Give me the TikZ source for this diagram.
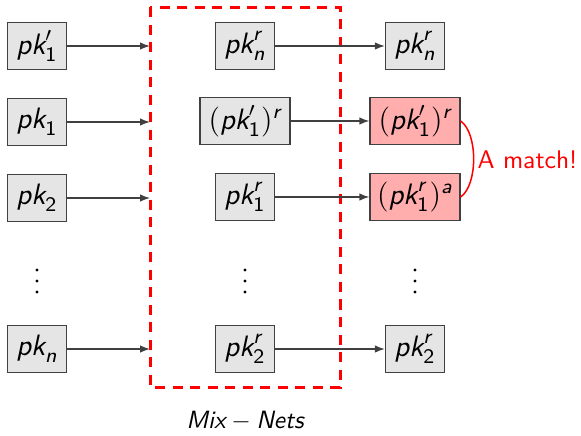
\documentclass[tikz,border=0pt]{standalone}
\usepackage{amsmath}
\usetikzlibrary{arrows.meta}
\newcommand\sv[1]{\textsf{\itshape #1}}
\newcommand\su[1]{\textsf{\upshape #1}}
\newcommand\pk{\sv{pk}}
\begin{document}
\begin{tikzpicture}[x=0.4pt,y=-0.4pt,
  key/.style={draw=black!75, fill=black!10, line width=0.5pt, minimum width=23.6pt, minimum height=19pt, inner sep=1pt, font=\fontsize{11.8}{13}\selectfont},
  widekey/.style={key, minimum width=36pt},
  hit/.style={widekey, fill=red!32},
  conn/.style={draw=black!75, line width=0.5pt, -{Latex[length=4pt,width=3pt]}},
  dot/.style={circle, fill=black, inner sep=0pt, minimum size=1.3pt},
  mixbox/.style={draw=red, dashed, dash pattern=on 4pt off 3pt, line width=1.2pt}]
\useasboundingbox (0,0) rectangle (581,435);
% left column
\node[key] (l1) at (37,46) {$\pk_{\su{1}}^{\prime}$};
\node[key] (l2) at (37,122) {$\pk_{\su{1}}$};
\node[key] (l3) at (37,198) {$\pk_{\su{2}}$};
\node[dot] (ld1) at (37,270) {};
\node[dot] (ld2) at (37,281) {};
\node[dot] (ld3) at (37,292) {};
\node[key] (l5) at (37,349) {$\pk_{\sv{n}}$};
% mix-net box
\draw[mixbox] (150,7) rectangle (340,387);
\coordinate (e1) at (150,46);
\coordinate (e2) at (150,122);
\coordinate (e3) at (150,198);
\coordinate (e5) at (150,349);
% middle column
\node[key] (m1) at (245,46) {$\pk_{\sv{n}}^{\sv{r}}$};
\node[widekey] (m2) at (245,121) {$(\pk_{\su{1}}^{\prime})^{\sv{r}}$};
\node[key] (m3) at (245,197) {$\pk_{\su{1}}^{\sv{r}}$};
\node[dot] (md1) at (245,270) {};
\node[dot] (md2) at (245,281) {};
\node[dot] (md3) at (245,292) {};
\node[key] (m5) at (245,349) {$\pk_{\su{2}}^{\sv{r}}$};
% right column
\node[key] (r1) at (415,46) {$\pk_{\sv{n}}^{\sv{r}}$};
\node[hit] (r2) at (415,121) {$(\pk_{\su{1}}^{\prime})^{\sv{r}}$};
\node[hit] (r3) at (415,197) {$(\pk_{\su{1}}^{\sv{r}})^{\sv{a}}$};
\node[dot] (rd1) at (415,270) {};
\node[dot] (rd2) at (415,281) {};
\node[dot] (rd3) at (415,292) {};
\node[key] (r5) at (415,349) {$\pk_{\su{2}}^{\sv{r}}$};
% connectors
\draw[conn] (l1) -- (e1);
\draw[conn] (l2) -- (e2);
\draw[conn] (l3) -- (e3);
\draw[conn] (l5) -- (e5);
\draw[conn] (m1) -- (r1);
\draw[conn] (m2) -- (r2);
\draw[conn] (m3) -- (r3);
\draw[conn] (m5) -- (r5);
% match
\draw[red, line width=0.6pt] (r2.east) .. controls (478,133) and (478,185) .. (r3.east);
\node[red, anchor=west, inner sep=0pt] (match) at (477,160) {\sffamily\fontsize{10.2}{12}\selectfont A match!};
\node (mix) at (245,421) {$\sv{Mix} - \sv{Nets}$};
\end{tikzpicture}
\end{document}
